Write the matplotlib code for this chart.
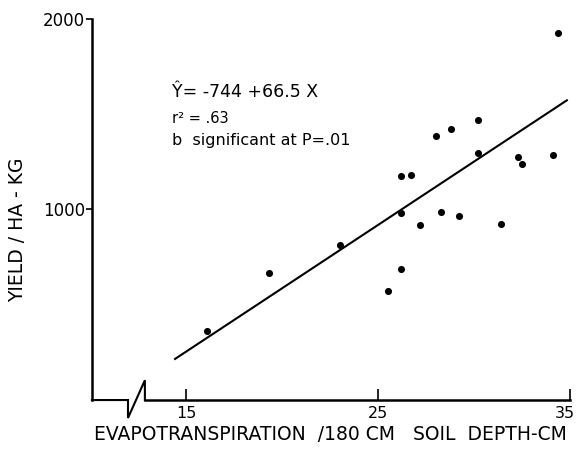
import matplotlib
matplotlib.use("Agg")
import matplotlib.pyplot as plt
import matplotlib.transforms as mtransforms
import numpy as np

plt.rcParams['font.family'] = ['DejaVu Sans']

# Data
et_cm = [16.1, 19.3, 23.0, 25.5, 26.2, 26.2, 26.2, 26.7, 27.2, 28.0, 28.3,
         28.8, 29.2, 30.2, 30.2, 31.4, 32.3, 32.5, 34.1, 34.4]
yield_kg = [360, 667, 816, 574, 688, 979, 1177, 1181, 916, 1384, 988,
            1423, 968, 1468, 1295, 924, 1275, 1237, 1288, 1925]
intercept = -744
slope = 66.5
fit_range = [14.43, 34.84]

x_ticks = [15, 25, 35]
x_tick_labels = ['15', '25', '35']
y_ticks = [1000, 2000]
y_tick_labels = ['1000', '2000']

fig = plt.figure(figsize=(5.78, 4.51), dpi=100)
ax = fig.add_axes([0.159, 0.113, 0.827, 0.845])
ax.set_xlim(10.1, 35)
ax.set_ylim(0, 2000)

ax.scatter(et_cm, yield_kg, s=26, color='black', zorder=3, linewidths=0)
fx = np.array(fit_range)
ax.plot(fx, intercept + slope * fx, color='black', lw=1.5)

for s in ['top', 'right']:
    ax.spines[s].set_visible(False)
ax.spines['left'].set_linewidth(1.8)
ax.spines['bottom'].set_linewidth(1.8)
brk_lo, brk_hi = 11.98, 12.86
ax.spines['bottom'].set_bounds(brk_hi, 35)

trans = mtransforms.blended_transform_factory(ax.transData, ax.transAxes)
ax.plot([10.1, brk_lo, brk_lo, brk_hi, brk_hi],
        [0, 0, -0.047, 0.052, 0],
        transform=trans, color='black', lw=1.5, clip_on=False,
        solid_joinstyle='miter')

ax.set_xticks(x_ticks)
ax.set_xticklabels(x_tick_labels)
ax.set_yticks(y_ticks)
ax.set_yticklabels(y_tick_labels)
ax.tick_params(axis='x', direction='in', length=8, width=1.2, labelsize=11.5, pad=4)
ax.tick_params(axis='y', direction='out', length=4, width=1.2, labelsize=12, pad=1)
last = ax.get_xticklabels()[-1]
last.set_transform(last.get_transform() +
                   mtransforms.ScaledTranslation(-5 / 100, 0, fig.dpi_scale_trans))
ax.set_yticks([2000], minor=True)
ax.tick_params(axis='y', which='minor', direction='in', length=9, width=1.2)

ax.set_xlabel('EVAPOTRANSPIRATION  /180 CM   SOIL  DEPTH-CM', fontsize=13.5, labelpad=3)
ax.set_ylabel('YIELD / HA - KG', fontsize=13.5)
ax.yaxis.set_label_coords(-0.136, 0.446)

ax.text(0.167, 0.808, 'Ŷ= -744 +66.5 X', transform=ax.transAxes, fontsize=12.5, va='center')
ax.text(0.167, 0.740, 'r² = .63', transform=ax.transAxes, fontsize=10.5, va='center')
ax.text(0.167, 0.680, 'b  significant at P=.01', transform=ax.transAxes, fontsize=11.5, va='center')

fig.savefig('out.png', dpi=100)
